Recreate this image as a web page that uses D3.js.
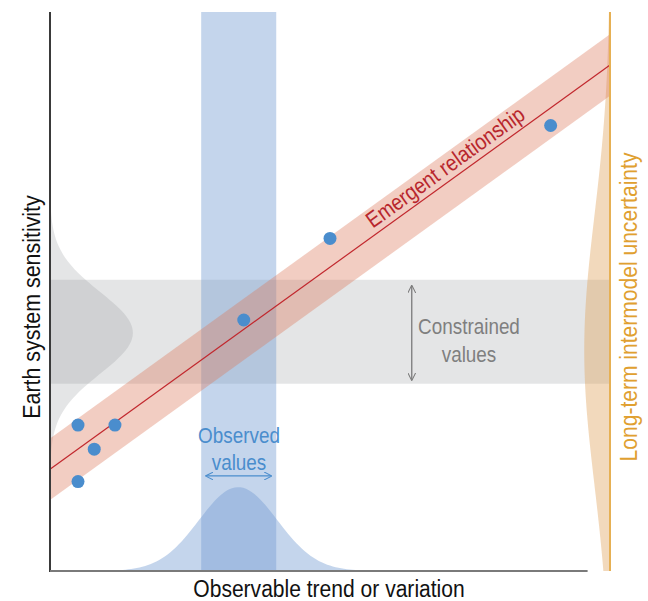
<!DOCTYPE html>
<html>
<head>
<meta charset="utf-8">
<script src="https://cdn.jsdelivr.net/npm/d3@7"></script>
<style>
  body { margin: 0; background: #fff; }
  svg { display: block; font-family: "Liberation Sans", Arial, sans-serif; }
</style>
</head>
<body>
<svg id="chart" width="648" height="601"></svg>
<script>
// model points (observable, sensitivity) in arbitrary units
const modelX = [0.5, 1.16, 0.79, 0.5, 3.46, 5.0, 8.94];
const modelY = [2.61, 2.61, 2.18, 1.6, 4.49, 5.95, 7.97];
// emergent relationship: y at x=0 and x=10, half width of the band
const fitEnds = [1.82, 9.05];
const fitHalfWidth = 0.55;
// observed range on x, and its distribution [mean, sd, peak]
const observedRange = [2.7, 4.04];
const observedDist = [3.36, 0.7, 1.5];
// constrained range on y, and its distribution [mean, sd, peak]
const constrainedRange = [3.35, 5.21];
const constrainedDist = [4.26, 0.73, 1.48];
// long-term intermodel spread [mean, sd, peak]
const priorDist = [3.95, 2.4, 0.46];

const labels = {
  x: "Observable trend or variation",
  y: "Earth system sensitivity",
  fit: "Emergent relationship",
  prior: "Long-term intermodel uncertainty",
  constrained: ["Constrained", "values"],
  observed: ["Observed", "values"]
};

const svg = d3.select("#chart");

const x = d3.scaleLinear().domain([0, 10]).range([50, 610]);
const y = d3.scaleLinear().domain([0, 10]).range([571, 12]);

const gauss = (p, v) => p[2] * Math.exp(-((v - p[0]) ** 2) / (2 * p[1] * p[1]));

// constrained band
svg.append("rect")
  .attr("x", x(0)).attr("width", x(10) - x(0))
  .attr("y", y(constrainedRange[1]))
  .attr("height", y(constrainedRange[0]) - y(constrainedRange[1]))
  .attr("fill", "rgb(151,153,157)").attr("fill-opacity", 0.26);

// constrained distribution (left)
const ys = d3.range(0, 10.001, 0.05);
svg.append("path")
  .datum(ys)
  .attr("d", d3.area()
    .y(d => y(d))
    .x0(x(0))
    .x1(d => x(gauss(constrainedDist, d))))
  .attr("fill", "rgb(151,153,157)").attr("fill-opacity", 0.26);

// observed band
svg.append("rect")
  .attr("x", x(observedRange[0]))
  .attr("width", x(observedRange[1]) - x(observedRange[0]))
  .attr("y", y(10)).attr("height", y(0) - y(10))
  .attr("fill", "rgb(115,155,210)").attr("fill-opacity", 0.42);

// observed distribution (bottom)
const xs = d3.range(0, 9.6, 0.05);
svg.append("path")
  .datum(xs)
  .attr("d", d3.area()
    .x(d => x(d))
    .y0(y(0))
    .y1(d => y(gauss(observedDist, d))))
  .attr("fill", "rgb(115,155,210)").attr("fill-opacity", 0.42);

// long-term spread (right)
svg.append("path")
  .datum(ys)
  .attr("d", d3.area()
    .y(d => y(d))
    .x0(x(10))
    .x1(d => x(10 - gauss(priorDist, d))))
  .attr("fill", "rgb(225,165,95)").attr("fill-opacity", 0.42);

// emergent relationship band + line
const fit = v => fitEnds[0] + (fitEnds[1] - fitEnds[0]) * v / 10;
svg.append("path")
  .datum([0, 10])
  .attr("d", d3.area()
    .x(d => x(d))
    .y0(d => y(fit(d) - fitHalfWidth))
    .y1(d => y(fit(d) + fitHalfWidth)))
  .attr("fill", "rgb(220,120,90)").attr("fill-opacity", 0.37);

svg.append("line")
  .attr("x1", x(0)).attr("y1", y(fit(0)))
  .attr("x2", x(10)).attr("y2", y(fit(10)))
  .attr("stroke", "#c1272d").attr("stroke-width", 1.2);

// axes
svg.append("line")
  .attr("x1", x(0)).attr("x2", x(0)).attr("y1", y(10)).attr("y2", y(0) + 1)
  .attr("stroke", "#3a3a3a").attr("stroke-width", 2);
svg.append("line")
  .attr("x1", x(0)).attr("x2", x(9.6)).attr("y1", y(0)).attr("y2", y(0))
  .attr("stroke", "#7a7a7a").attr("stroke-width", 2);
svg.append("line")
  .attr("x1", x(10)).attr("x2", x(10)).attr("y1", y(10)).attr("y2", y(0))
  .attr("stroke", "#e6b054").attr("stroke-width", 2);

// model points
svg.selectAll("circle")
  .data(modelX.map((d, i) => [d, modelY[i]]))
  .join("circle")
  .attr("cx", d => x(d[0]))
  .attr("cy", d => y(d[1]))
  .attr("r", 6.5)
  .attr("fill", "#4a8dcd");

// arrow markers
const defs = svg.append("defs");
[["grayHead", "#7a7a7a"], ["blueHead", "#4a8dcd"]].forEach(([id, c]) => {
  defs.append("marker")
    .attr("id", id)
    .attr("viewBox", "0 -5 10 10")
    .attr("refX", 9).attr("refY", 0)
    .attr("markerWidth", 8).attr("markerHeight", 8)
    .attr("markerUnits", "userSpaceOnUse")
    .attr("orient", "auto-start-reverse")
    .append("path")
    .attr("d", "M0,-5L10,0L0,5")
    .attr("fill", "none").attr("stroke", c).attr("stroke-width", 1.3);
});

svg.append("line")
  .attr("x1", x(6.46)).attr("x2", x(6.46))
  .attr("y1", y(5.1)).attr("y2", y(3.42))
  .attr("stroke", "#7a7a7a").attr("stroke-width", 1.3)
  .attr("marker-start", "url(#grayHead)").attr("marker-end", "url(#grayHead)");

svg.append("line")
  .attr("x1", x(2.79)).attr("x2", x(3.95))
  .attr("y1", y(1.7)).attr("y2", y(1.7))
  .attr("stroke", "#4a8dcd").attr("stroke-width", 1.3)
  .attr("marker-start", "url(#blueHead)").attr("marker-end", "url(#blueHead)");

// text: the original face is condensed, so squeeze horizontally
const squeeze = 0.87;
function label(tx, ty, rot, size, color, lines, lineGap) {
  const t = svg.append("text")
    .attr("transform", `translate(${tx},${ty}) rotate(${rot}) scale(${squeeze},1)`)
    .attr("text-anchor", "middle")
    .attr("font-size", size)
    .attr("fill", color);
  t.selectAll("tspan").data(lines).join("tspan")
    .attr("x", 0).attr("y", (d, i) => i * (lineGap || 0))
    .text(d => d);
  return t;
}

label(329, 597, 0, 24.2, "#111", [labels.x]);
label(40, 307, -90, 24.6, "#111", [labels.y]);
label(637, 307, -90, 24.2, "#e0a030", [labels.prior]);

const angle = Math.atan2(y(fit(10)) - y(fit(0)), x(10) - x(0)) * 180 / Math.PI;
const fx = 7.2;
const ox = Math.sin(angle * Math.PI / 180) * 6;
const oy = -Math.cos(angle * Math.PI / 180) * 6;
label(x(fx) + ox, y(fit(fx)) + oy, angle, 22.4, "#b8262d", [labels.fit]);

label(469, 334, 0, 21.7, "#7f7f7f", labels.constrained, 28);
label(239, 443, 0, 21.7, "#4a8dcd", labels.observed, 27);
</script>
</body>
</html>
